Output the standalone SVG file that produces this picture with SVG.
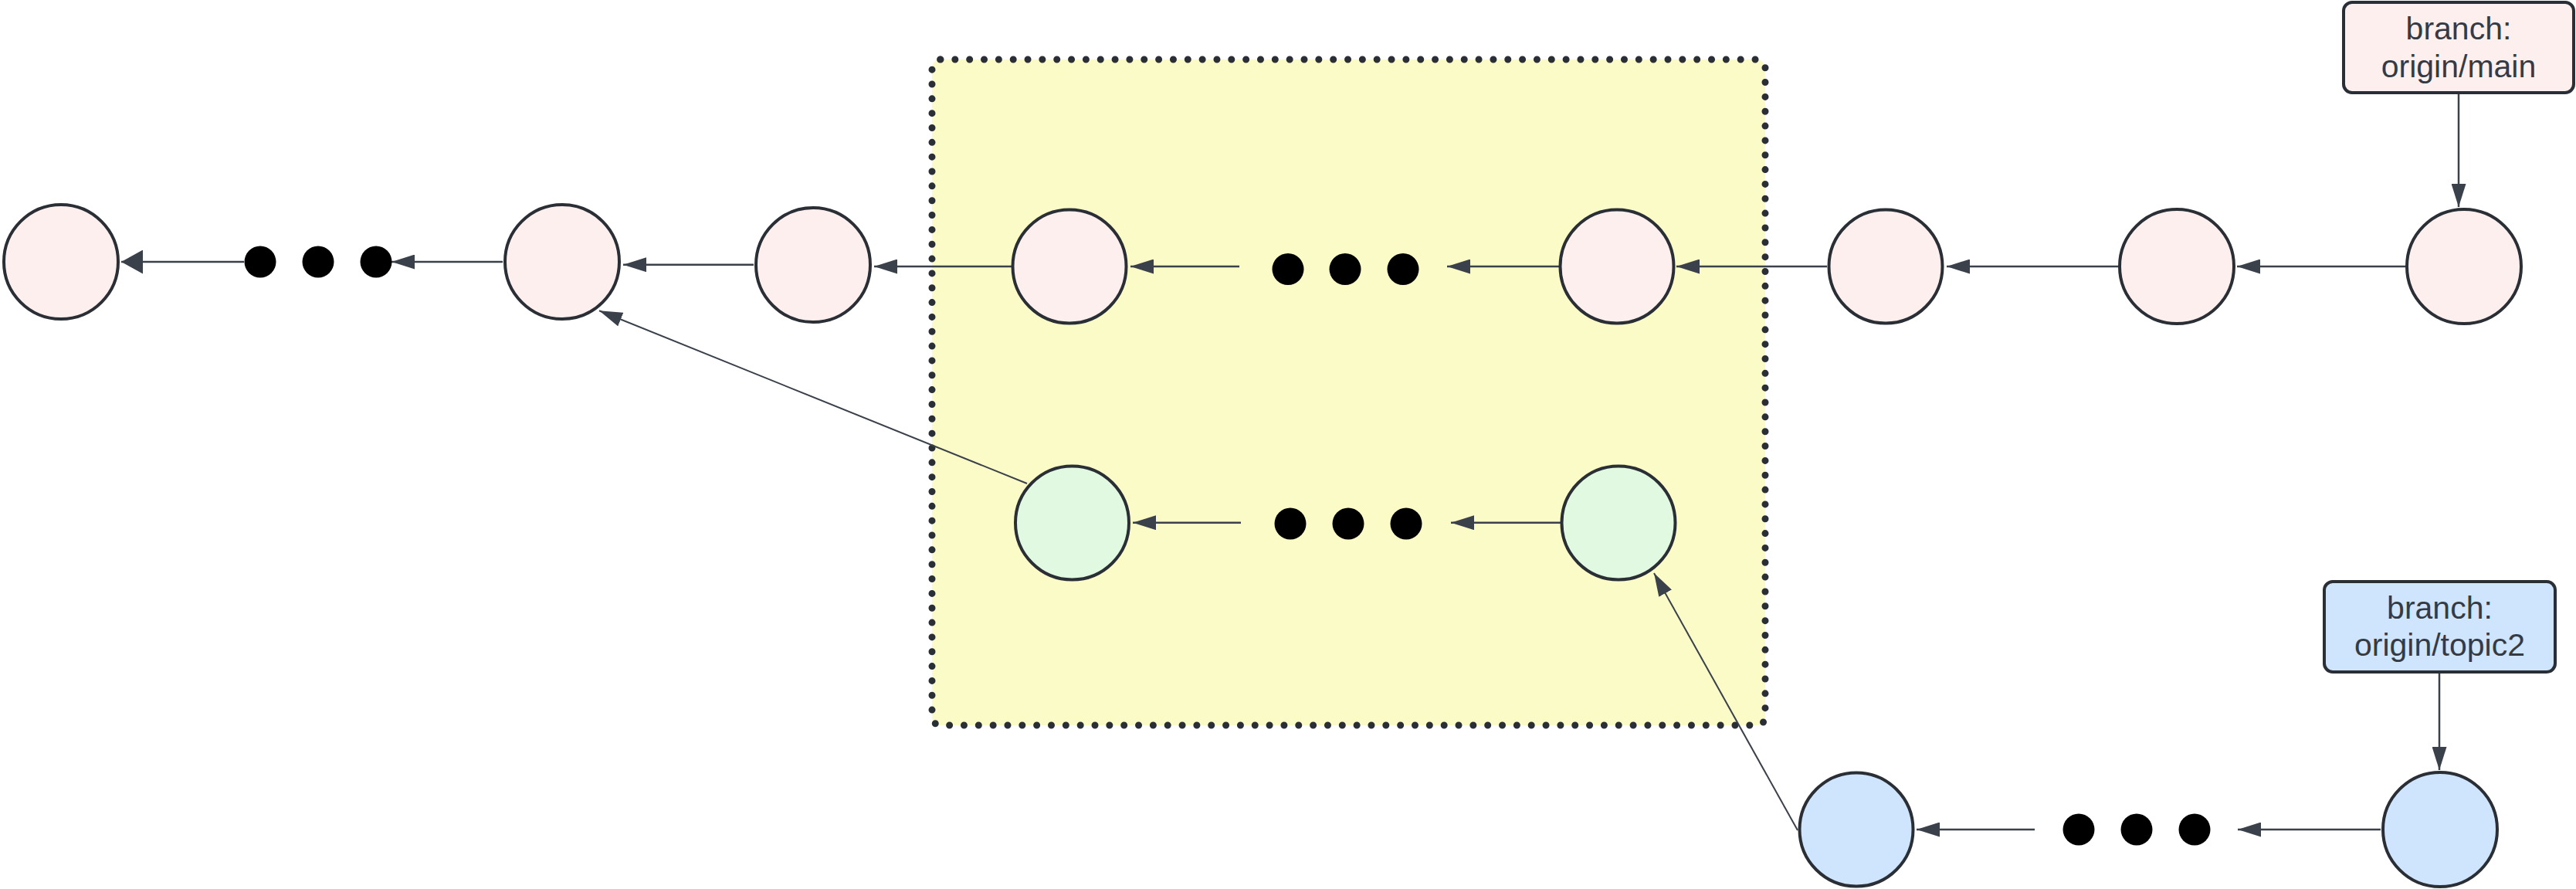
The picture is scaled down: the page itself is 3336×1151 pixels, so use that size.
<svg xmlns="http://www.w3.org/2000/svg" width="3336" height="1151" viewBox="0 0 3336 1151">
<style>
.bg{fill:#ffffff}
.pink{fill:#fdefee;stroke:#2a2e35;stroke-width:4}
.green{fill:#e2f9e1;stroke:#2a2e35;stroke-width:4}
.blue{fill:#cfe4fd;stroke:#2a2e35;stroke-width:4}
.dot{fill:#000000}
.con{fill:none;stroke:#3a414a;stroke-width:2.5}
.diag{fill:none;stroke:#3a414a;stroke-width:2}
.lbl{font-family:"Liberation Sans",Arial,sans-serif;font-size:41px;fill:#353b45;text-anchor:middle}
.container{fill:#fbfbc8;stroke:#2a2e35;stroke-width:9;stroke-linecap:round;stroke-dasharray:0 18.84}
</style>
<defs>
<marker id="arr" markerUnits="userSpaceOnUse" viewBox="0 0 30 19" refX="30" refY="9.5" markerWidth="30" markerHeight="19" orient="auto">
<path d="M0,0 L30,9.5 L0,19 z" fill="#3a414a"/>
</marker>
<marker id="arrw" markerUnits="userSpaceOnUse" viewBox="0 0 28 31" refX="28" refY="15.5" markerWidth="28" markerHeight="31" orient="auto">
<path d="M0,0 L28,15.5 L0,31 z" fill="#3a414a"/>
</marker>
</defs>
<rect class="bg" x="0" y="0" width="3336" height="1151"/>
<g id="container">
<rect class="container" x="1207" y="77" width="1079" height="862" rx="11"/>
</g>
<g id="connectors">
<line class="con" x1="316" y1="339" x2="157" y2="339" marker-end="url(#arrw)"/>
<line class="con" x1="651" y1="339" x2="507" y2="339" marker-end="url(#arr)"/>
<line class="con" x1="976" y1="342.7" x2="807" y2="342.7" marker-end="url(#arr)"/>
<line class="con" x1="1310" y1="345" x2="1132" y2="345" marker-end="url(#arr)"/>
<line class="con" x1="1605" y1="345" x2="1464" y2="345" marker-end="url(#arr)"/>
<line class="con" x1="2019" y1="345" x2="1874" y2="345" marker-end="url(#arr)"/>
<line class="con" x1="2366" y1="345" x2="2171" y2="345" marker-end="url(#arr)"/>
<line class="con" x1="2743" y1="345" x2="2521" y2="345" marker-end="url(#arr)"/>
<line class="con" x1="3115" y1="345" x2="2897" y2="345" marker-end="url(#arr)"/>
<line class="con" x1="3184" y1="121" x2="3184" y2="268" marker-end="url(#arr)"/>
<line class="con" x1="1607" y1="676.7" x2="1467" y2="676.7" marker-end="url(#arr)"/>
<line class="con" x1="2021" y1="676.7" x2="1879" y2="676.7" marker-end="url(#arr)"/>
<line class="con" x1="2635" y1="1074" x2="2482" y2="1074" marker-end="url(#arr)"/>
<line class="con" x1="3083" y1="1074" x2="2898" y2="1074" marker-end="url(#arr)"/>
<line class="con" x1="3159" y1="871" x2="3159" y2="997" marker-end="url(#arr)"/>
<line class="diag" x1="1330" y1="626" x2="776" y2="402.3" marker-end="url(#arr)"/>
<line class="diag" x1="2328" y1="1075" x2="2142" y2="742" marker-end="url(#arr)"/>
</g>
<g id="ellipsis-main-left">
<circle class="dot" cx="337" cy="339" r="20.5"/>
<circle class="dot" cx="412" cy="339" r="20.5"/>
<circle class="dot" cx="487" cy="339" r="20.5"/>
</g>
<g id="ellipsis-main-mid">
<circle class="dot" cx="1668" cy="348.5" r="20.5"/>
<circle class="dot" cx="1742" cy="348.5" r="20.5"/>
<circle class="dot" cx="1817" cy="348.5" r="20.5"/>
</g>
<g id="ellipsis-green">
<circle class="dot" cx="1671" cy="678" r="20.5"/>
<circle class="dot" cx="1746" cy="678" r="20.5"/>
<circle class="dot" cx="1821" cy="678" r="20.5"/>
</g>
<g id="ellipsis-blue">
<circle class="dot" cx="2692" cy="1074" r="20.5"/>
<circle class="dot" cx="2767" cy="1074" r="20.5"/>
<circle class="dot" cx="2842" cy="1074" r="20.5"/>
</g>
<g id="m1"><circle class="pink" cx="79" cy="339" r="74"/></g>
<g id="m2"><circle class="pink" cx="728" cy="339" r="74"/></g>
<g id="m3"><circle class="pink" cx="1053" cy="343" r="74"/></g>
<g id="m4"><circle class="pink" cx="1385" cy="345" r="73.5"/></g>
<g id="m5"><circle class="pink" cx="2094" cy="345" r="73.5"/></g>
<g id="m6"><circle class="pink" cx="2442" cy="345" r="73.5"/></g>
<g id="m7"><circle class="pink" cx="2819" cy="345" r="74"/></g>
<g id="m8"><circle class="pink" cx="3191" cy="345" r="74"/></g>
<g id="g1"><circle class="green" cx="1388.5" cy="677" r="73.5"/></g>
<g id="g2"><circle class="green" cx="2096" cy="677" r="73.5"/></g>
<g id="b1"><circle class="blue" cx="2404" cy="1074" r="73.5"/></g>
<g id="b2"><circle class="blue" cx="3160" cy="1074" r="74"/></g>
<g id="label-main">
<rect class="pink" x="3035" y="3" width="298" height="117" rx="11"/>
<text class="lbl" x="3184" y="50.7">branch:</text>
<text class="lbl" x="3184" y="100">origin/main</text>
</g>
<g id="label-topic2">
<rect class="blue" x="3010" y="753" width="299" height="117" rx="11"/>
<text class="lbl" x="3159.5" y="800.7">branch:</text>
<text class="lbl" x="3159.5" y="849">origin/topic2</text>
</g>
</svg>
